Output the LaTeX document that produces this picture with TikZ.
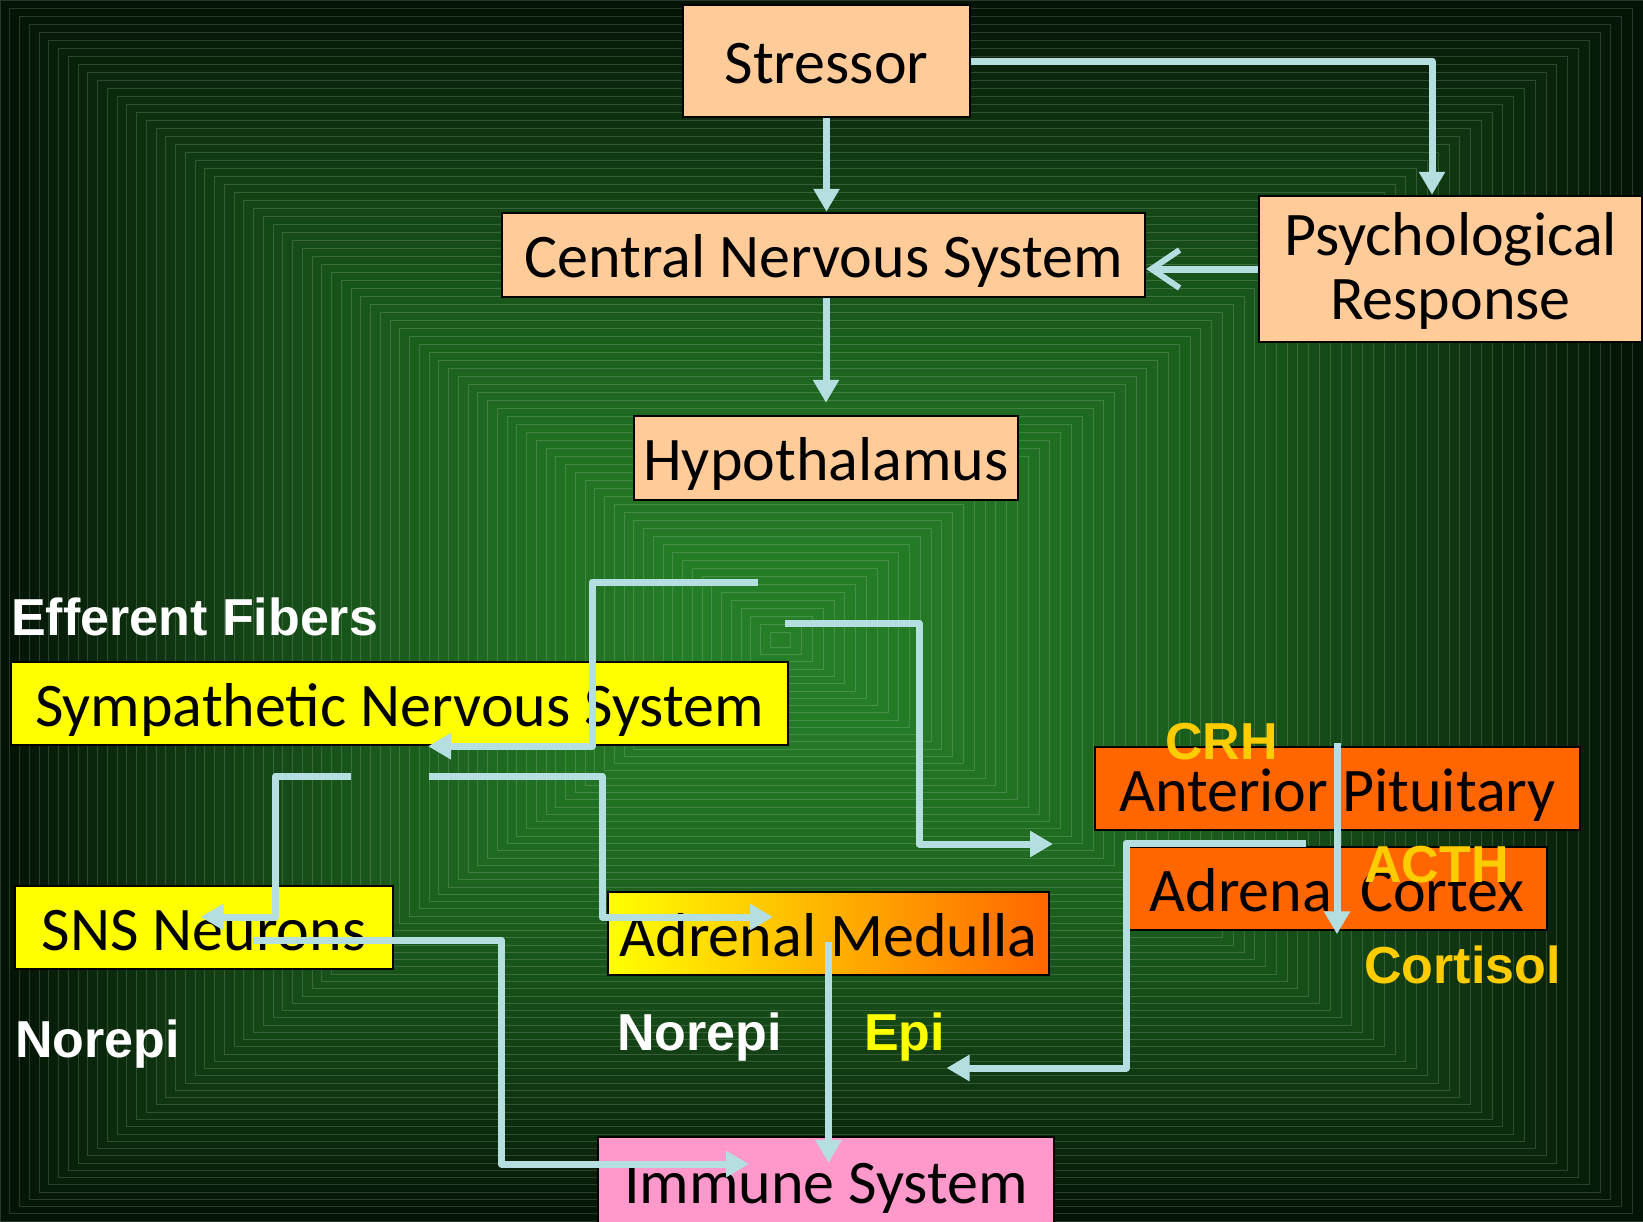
\documentclass[tikz,border=0pt]{standalone}
\usepackage{fontspec}
\setmainfont{Carlito}
\newfontfamily\arialfont{Liberation Sans}
\usetikzlibrary{arrows.meta}

\definecolor{peach}{HTML}{FFCC99}
\definecolor{lemon}{HTML}{FFFF00}
\definecolor{tangerine}{HTML}{FF6600}
\definecolor{rosy}{HTML}{FF99CC}
\definecolor{gold}{HTML}{FFCC00}
\definecolor{fibreblue}{RGB}{180,222,224}
\definecolor{bgin}{RGB}{38,128,40}
\definecolor{bgout}{RGB}{4,20,6}

\begin{document}
\begin{tikzpicture}[x=1pt,y=-1pt,
		panel/.style={draw=black,line width=2.5pt,inner sep=0pt,text=black,
			font=\fontsize{62}{64}\selectfont,text height=45pt,text depth=0pt},
		tagtext/.style={inner sep=0pt,anchor=base west,
			font=\arialfont\bfseries\fontsize{52}{52}\selectfont},
		fibre/.style={draw=fibreblue,line width=7pt,line join=round,
			-{Triangle[length=23pt,width=25pt]}}]
		\useasboundingbox (0,0) rectangle (1643,1221);
		% Background, nested rectangles
		\foreach \i in {0,...,79} {
			\pgfmathsetmacro\sz{1-\i/80}
			\pgfmathtruncatemacro\pc{100*(1-\sz^1.6)}
			\filldraw[fill=bgin!\pc!bgout,draw=bgin!\pc!bgout!85!white,line width=0.7pt]
				({780-780*\sz},{640-640*\sz}) rectangle ({780+863*\sz},{640+581*\sz});
		}
		% Boxes
		\node[panel,fill=peach,minimum width=287pt,minimum height=112pt] (stressor) at (826.5,61) {Stressor};
		\node[panel,fill=peach,minimum width=643pt,minimum height=84pt] (cns) at (823.5,255) {Central Nervous System};
		\node[panel,fill=peach,minimum width=383pt,minimum height=146pt,text height=,text depth=] (psych) at (1450.5,269)
			{\raisebox{-6pt}[\height][\depth]{\begin{tabular}{@{}c@{}}Psychological\\Response\end{tabular}}};
		\node[panel,fill=peach,minimum width=384pt,minimum height=84pt] (hypo) at (826,458) {Hypothalamus};
		\node[panel,fill=lemon,minimum width=777pt,minimum height=83pt] (sns) at (399.5,703.5) {Sympathetic Nervous System};
		\node[panel,fill=lemon,minimum width=378pt,minimum height=83pt] (neurons) at (204,927.5) {SNS Neurons};
		\node[panel,left color=lemon,right color=tangerine,minimum width=441pt,minimum height=83pt] (medulla) at (828.5,933.5) {Adrenal Medulla};
		\node[panel,fill=rosy,minimum width=456pt,minimum height=88pt] (immune) at (826,1181) {Immune System};
		\node[panel,fill=tangerine,minimum width=485pt,minimum height=83pt] (pituitary) at (1337.5,788.5) {Anterior Pituitary};
		\node[panel,fill=tangerine,minimum width=420pt,minimum height=83pt] (cortex) at (1337,888.5) {Adrenal Cortex};
		% Labels
		\node[tagtext,text=white] (efferent) at (11,635) {Efferent Fibers};
		\node[tagtext,text=white] (norepiL) at (15,1057) {Norepi};
		\node[tagtext,text=white] (norepiM) at (617,1050) {Norepi};
		\node[tagtext,text=lemon] (epi) at (864,1050) {Epi};
		\node[tagtext,text=gold] (crh) at (1165,759) {CRH};
		\node[tagtext,text=gold] (acth) at (1364,882) {ACTH};
		\node[tagtext,text=gold] (cortisol) at (1364,983) {Cortisol};
		% Free ends of the fibres
		\coordinate (hypL) at (758,582);
		\coordinate (hypR) at (785,623);
		\coordinate (pitin) at (1053,844);
		\coordinate (snsL) at (351,776);
		\coordinate (snsR) at (428.5,776);
		\coordinate (crhtop) at (1337,743);
		\coordinate (epiin) at (946.5,1068);
		% Connectors
		\draw[fibre] (stressor.south) -- (stressor.south |- cns.north);
		\draw[fibre,shorten >=12pt] (hypo.north |- cns.south) -- (hypo.north);
		\draw[fibre] (stressor.east) -| ([xshift=-18.5pt]psych.north);
		\draw[fibre,-{Straight Barb[length=28pt,width=38pt,line width=6pt]}] (psych.west) -- (cns.east |- psych.west);
		\draw[fibre] (hypL) -- ++(-166,0) |- ([xshift=28.5pt]sns.south);
		\draw[fibre] (hypR) -- ++(134,0) |- (pitin);
		\draw[fibre] (snsL) -- ++(-75.5,0) |- ([xshift=-3.5pt,yshift=10.5pt]neurons.center);
		\draw[fibre] (snsR) -- ++(173.5,0) |- ([xshift=-55.5pt,yshift=16.5pt]medulla.center);
		\draw[fibre] ([xshift=48.5pt,yshift=-12.5pt]neurons.center) -- ++(249,0) |- ([xshift=-77pt,yshift=17pt]immune.center);
		\draw[fibre] ([yshift=-8.5pt]medulla.center) -- ([xshift=2.5pt,yshift=18pt]immune.center);
		\draw[fibre] ([xshift=-31pt,yshift=45.5pt]cortex.center) -- ++(-180,0) |- (epiin);
		\draw[fibre] (crhtop) -- ([yshift=-3pt]cortex.south);
	\end{tikzpicture}
\end{document}
